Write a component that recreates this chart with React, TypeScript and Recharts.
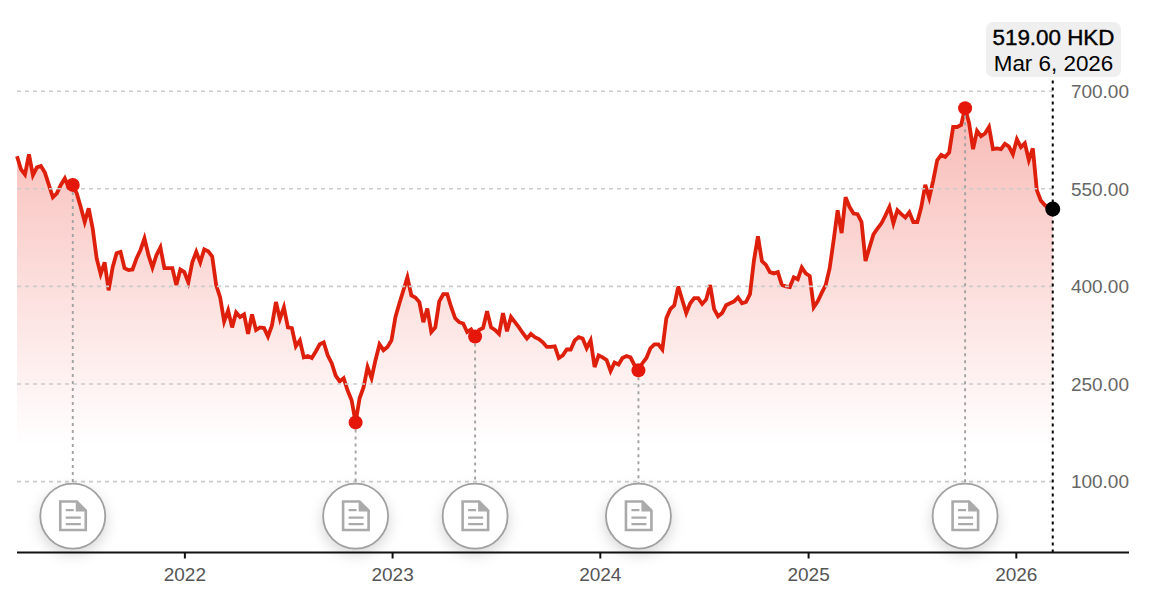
import { Area, AreaChart, ReferenceDot, ReferenceLine, XAxis, YAxis } from 'recharts'

const DAY = 24 * 3600 * 1000
const lastDate = Date.UTC(2026, 2, 6)

// weekly closes in HKD
const prices = [
  600, 580, 572, 603, 571, 583, 585, 575, 556, 537,
  543, 556, 566, 552, 556, 543, 522, 499, 520, 489,
  443, 419, 437, 394, 429, 451, 453, 428, 425, 426,
  443, 456, 474, 448, 429, 448, 460, 428, 428, 428,
  402, 426, 422, 406, 437, 453, 437, 457, 454, 446,
  402, 383, 346, 363, 337, 360, 353, 357, 327, 357,
  333, 337, 336, 323, 340, 376, 350, 368, 337, 336,
  308, 317, 291, 293, 290, 300, 311, 314, 294, 282,
  263, 254, 259, 240, 225, 191, 228, 245, 276, 259,
  287, 311, 302, 307, 317, 353, 374, 394, 414, 386,
  383, 376, 345, 366, 330, 337, 377, 388, 388, 368,
  351, 345, 343, 330, 334, 323, 333, 336, 362, 337,
  333, 327, 359, 331, 353, 345, 337, 328, 320, 327,
  322, 319, 314, 307, 307, 308, 290, 294, 303, 303,
  317, 322, 320, 305, 317, 276, 294, 291, 287, 270,
  283, 280, 290, 293, 291, 279, 271, 282, 290, 305,
  311, 311, 303, 351, 365, 371, 400, 379, 359, 374,
  382, 382, 373, 380, 402, 365, 354, 359, 371, 374,
  377, 383, 374, 376, 388, 440, 477, 439, 433, 422,
  420, 422, 402, 400, 399, 414, 411, 429, 420, 416,
  368, 377, 390, 402, 428, 471, 517, 482, 537, 522,
  512, 511, 499, 439, 460, 480, 489, 497, 509, 522,
  497, 517, 511, 506, 514, 499, 499, 522, 556, 536,
  563, 594, 602, 599, 606, 645, 645, 648, 674, 651,
  611, 639, 631, 635, 645, 611, 612, 611, 619, 615,
  603, 626, 614, 620, 594, 612, 548, 532, 525, 520,
  519,
]
const weekDates = prices.map((_, i) => lastDate - (prices.length - 1 - i) * 7 * DAY)
const chartData = prices.map((price, i) => ({ date: weekDates[i], price }))

const yearTicks = [2022, 2023, 2024, 2025, 2026].map((y) => Date.UTC(y, 0, 1))
const priceTicks = [100, 250, 400, 550, 700]
const eventWeeks = [14, 85, 115, 156, 238]

const iconLevel = 47
const priceDomain = [-9, 748]
const dateDomain = [weekDates[0], weekDates[0] + 1954 * DAY]

const LINE_RED = '#dd1f0c'

function EventIcon(props: any) {
  const { cx, cy } = props
  const grey = '#aaaaaa'
  return (
    <g transform={`translate(${cx},${cy})`}>
      <circle
        r={32.5}
        fill='#fff'
        stroke='#a0a0a0'
        strokeWidth={1.8}
        style={{ filter: 'drop-shadow(0 5px 7px rgba(0,0,0,0.16))' }}
      />
      <path
        d='M-12.5,-14.5 H4 L13,-5.5 V14 H-12.5 Z'
        fill='none'
        stroke={grey}
        strokeWidth={2.6}
      />
      <path d='M3,-15.5 L14.3,-4.5 H3 Z' fill={grey} />
      <path d='M-7,-6 H1 M-7,1.5 H8 M-7,8 H8' stroke={grey} strokeWidth={2.2} fill='none' />
    </g>
  )
}

export default function App() {
  return (
    <div style={{ position: 'absolute', left: 0, top: 0, width: 1153, height: 608, background: '#fff' }}>
      <AreaChart
        width={1153}
        height={608}
        data={chartData}
        margin={{ top: 60, right: 24, bottom: 0, left: 17 }}
      >
        <defs>
          <linearGradient id='priceFill' x1='0' y1='0' x2='0' y2='1'>
            <stop offset='0%' stopColor='#e8281a' stopOpacity={0.32} />
            <stop offset='76%' stopColor='#e8281a' stopOpacity={0} />
          </linearGradient>
        </defs>
        <XAxis
          dataKey='date'
          type='number'
          domain={dateDomain}
          ticks={yearTicks}
          interval={0}
          tickFormatter={(t: number) => String(new Date(t).getUTCFullYear())}
          tick={{ fill: '#555', fontSize: 19, fontFamily: 'Liberation Sans' }}
          tickSize={6}
          tickMargin={9}
          tickLine={{ stroke: '#111', strokeWidth: 2 }}
          axisLine={{ stroke: '#111', strokeWidth: 2 }}
          height={55.5}
        />
        <YAxis
          orientation='right'
          mirror
          type='number'
          domain={priceDomain}
          ticks={priceTicks}
          interval={0}
          tickFormatter={(v: number) => v.toFixed(2)}
          tick={{ fill: '#666', fontSize: 19, fontFamily: 'Liberation Sans' }}
          tickSize={0}
          tickMargin={0}
          axisLine={false}
          tickLine={false}
        />
        {priceTicks.map((p) => (
          <ReferenceLine
            key={p}
            segment={[
              { x: weekDates[0], y: p },
              { x: lastDate, y: p },
            ]}
            stroke='#cccccc'
            strokeWidth={1.6}
            strokeDasharray='4 4'
          />
        ))}
        <Area
          dataKey='price'
          type='linear'
          stroke={LINE_RED}
          strokeWidth={3.8}
          strokeLinejoin='miter'
          fill='url(#priceFill)'
          fillOpacity={1}
          baseValue={priceDomain[0]}
          dot={false}
          activeDot={false}
          isAnimationActive={false}
        />
        <ReferenceLine
          x={lastDate}
          stroke='#000'
          strokeWidth={2}
          strokeDasharray='3 4'
        />
        {eventWeeks.map((w) => (
          <ReferenceLine
            key={w}
            segment={[
              { x: weekDates[w], y: prices[w] },
              { x: weekDates[w], y: iconLevel },
            ]}
            stroke='#a3a3a3'
            strokeWidth={1.9}
            strokeDasharray='3 4'
          />
        ))}
        {eventWeeks.map((w) => (
          <ReferenceDot
            key={w}
            x={weekDates[w]}
            y={prices[w]}
            r={7}
            fill='#e5170b'
            stroke='none'
          />
        ))}
        {eventWeeks.map((w) => (
          <ReferenceDot
            key={'icon' + w}
            x={weekDates[w]}
            y={iconLevel}
            r={32}
            shape={EventIcon}
          />
        ))}
        <ReferenceDot
          x={lastDate}
          y={prices[prices.length - 1]}
          r={7.5}
          fill='#000'
          stroke='none'
        />
      </AreaChart>
      <div
        style={{
          position: 'absolute',
          left: 986,
          top: 22,
          width: 135,
          height: 55,
          background: '#efefef',
          borderRadius: 7,
          fontFamily: 'Liberation Sans',
          fontSize: 22.4,
          lineHeight: '26px',
          color: '#000',
          textAlign: 'center',
          paddingTop: 3,
          boxSizing: 'border-box',
          whiteSpace: 'nowrap',
        }}
      >
        <div style={{ WebkitTextStroke: '0.4px #000' }}>519.00 HKD</div>
        <div>Mar 6, 2026</div>
      </div>
    </div>
  )
}
